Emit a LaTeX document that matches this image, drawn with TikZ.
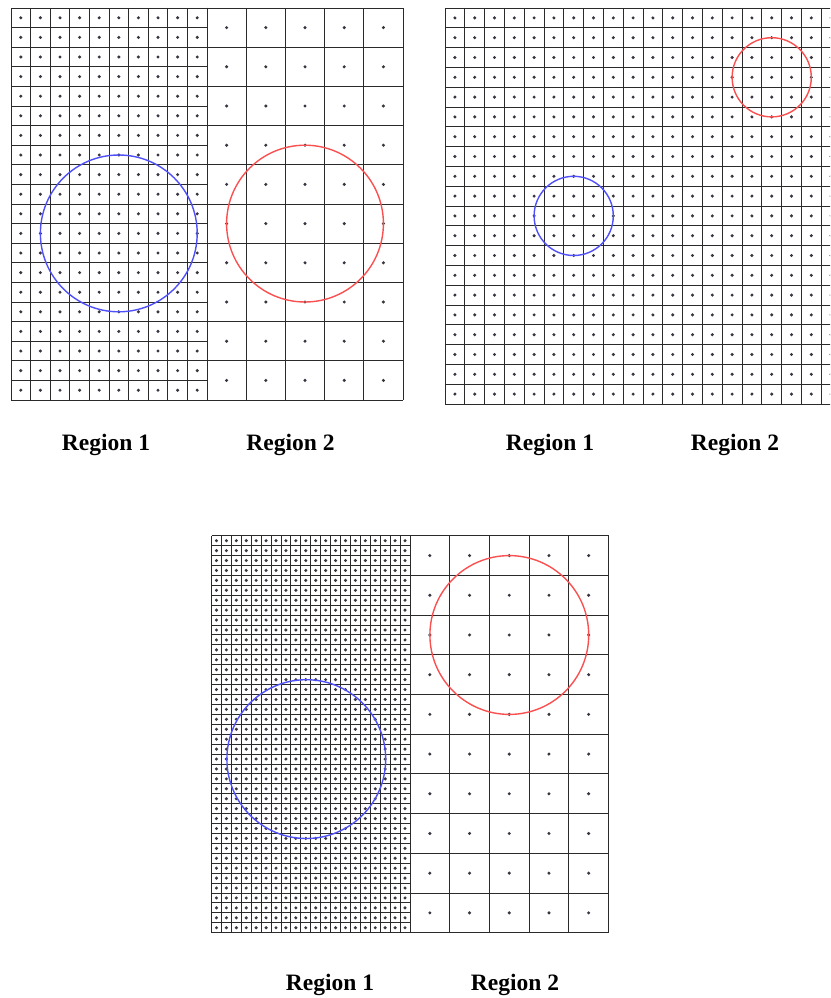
\documentclass[tikz,border=0pt]{standalone}
\usepackage{fontspec}
\setmainfont{Liberation Serif}
\definecolor{gridc}{HTML}{2A2A2A}
\definecolor{dotc}{HTML}{3A3440}
\definecolor{bluec}{HTML}{5050FA}
\definecolor{redc}{HTML}{FA5050}
\tikzset{
  gridline/.style={draw=gridc, line width=0.95pt},
  gdot/.style={fill=dotc},
  bluering/.style={draw=bluec, line width=1.4pt},
  redring/.style={draw=redc, line width=1.4pt},
  lbl/.style={font=\fontsize{23.5}{27}\selectfont\bfseries, anchor=base, inner sep=0pt}
}
% #1 x0, #2 y0, #3 cell, #4 ncols, #5 nrows
\newcommand{\cellgrid}[5]{%
  \foreach \i in {0,...,#4} {\draw[gridline] ({#1+\i*#3},#2) -- ({#1+\i*#3},{#2+#5*#3});}
  \foreach \j in {0,...,#5} {\draw[gridline] (#1,{#2+\j*#3}) -- ({#1+#4*#3},{#2+\j*#3});}
  \foreach \i in {1,...,#4} {\foreach \j in {1,...,#5} {\fill[gdot] ({#1+(\i-0.5)*#3},{#2+(\j-0.5)*#3}) circle[radius=1.7];}}
}
\begin{document}
\begin{tikzpicture}[x=1pt,y=-1pt]
\useasboundingbox[fill=white] (0,0) rectangle (830,998);
\begin{scope}
\clip (0,0) rectangle (830,998);
% ---- top-left panel ----
\cellgrid{11}{8}{19.6}{10}{20}
\cellgrid{207}{8}{39.2}{5}{10}
\draw[bluering] (118.8,233.4) circle[radius=78.4];
\draw[redring] (305,223.6) circle[radius=78.4];
% ---- top-right panel ----
\cellgrid{445}{8}{19.8}{20}{20}
\draw[bluering] (573.7,215.9) circle[radius=39.6];
\draw[redring] (771.7,77.3) circle[radius=39.6];
% ---- bottom panel ----
\cellgrid{211.5}{535.7}{9.925}{20}{40}
\cellgrid{410}{535.7}{39.7}{5}{10}
\draw[bluering] (306.3,759.1) circle[radius=79.4];
\draw[redring] (509.3,635) circle[radius=79.4];
\end{scope}
% ---- labels ----
\node[lbl] (tl1) at (106,450.7) {Region 1};
\node[lbl] (tl2) at (290.5,450.7) {Region 2};
\node[lbl] (tr1) at (550,450.7) {Region 1};
\node[lbl] (tr2) at (735,450.7) {Region 2};
\node[lbl] (b1) at (330,990.7) {Region 1};
\node[lbl] (b2) at (515,990.7) {Region 2};
\end{tikzpicture}
\end{document}
